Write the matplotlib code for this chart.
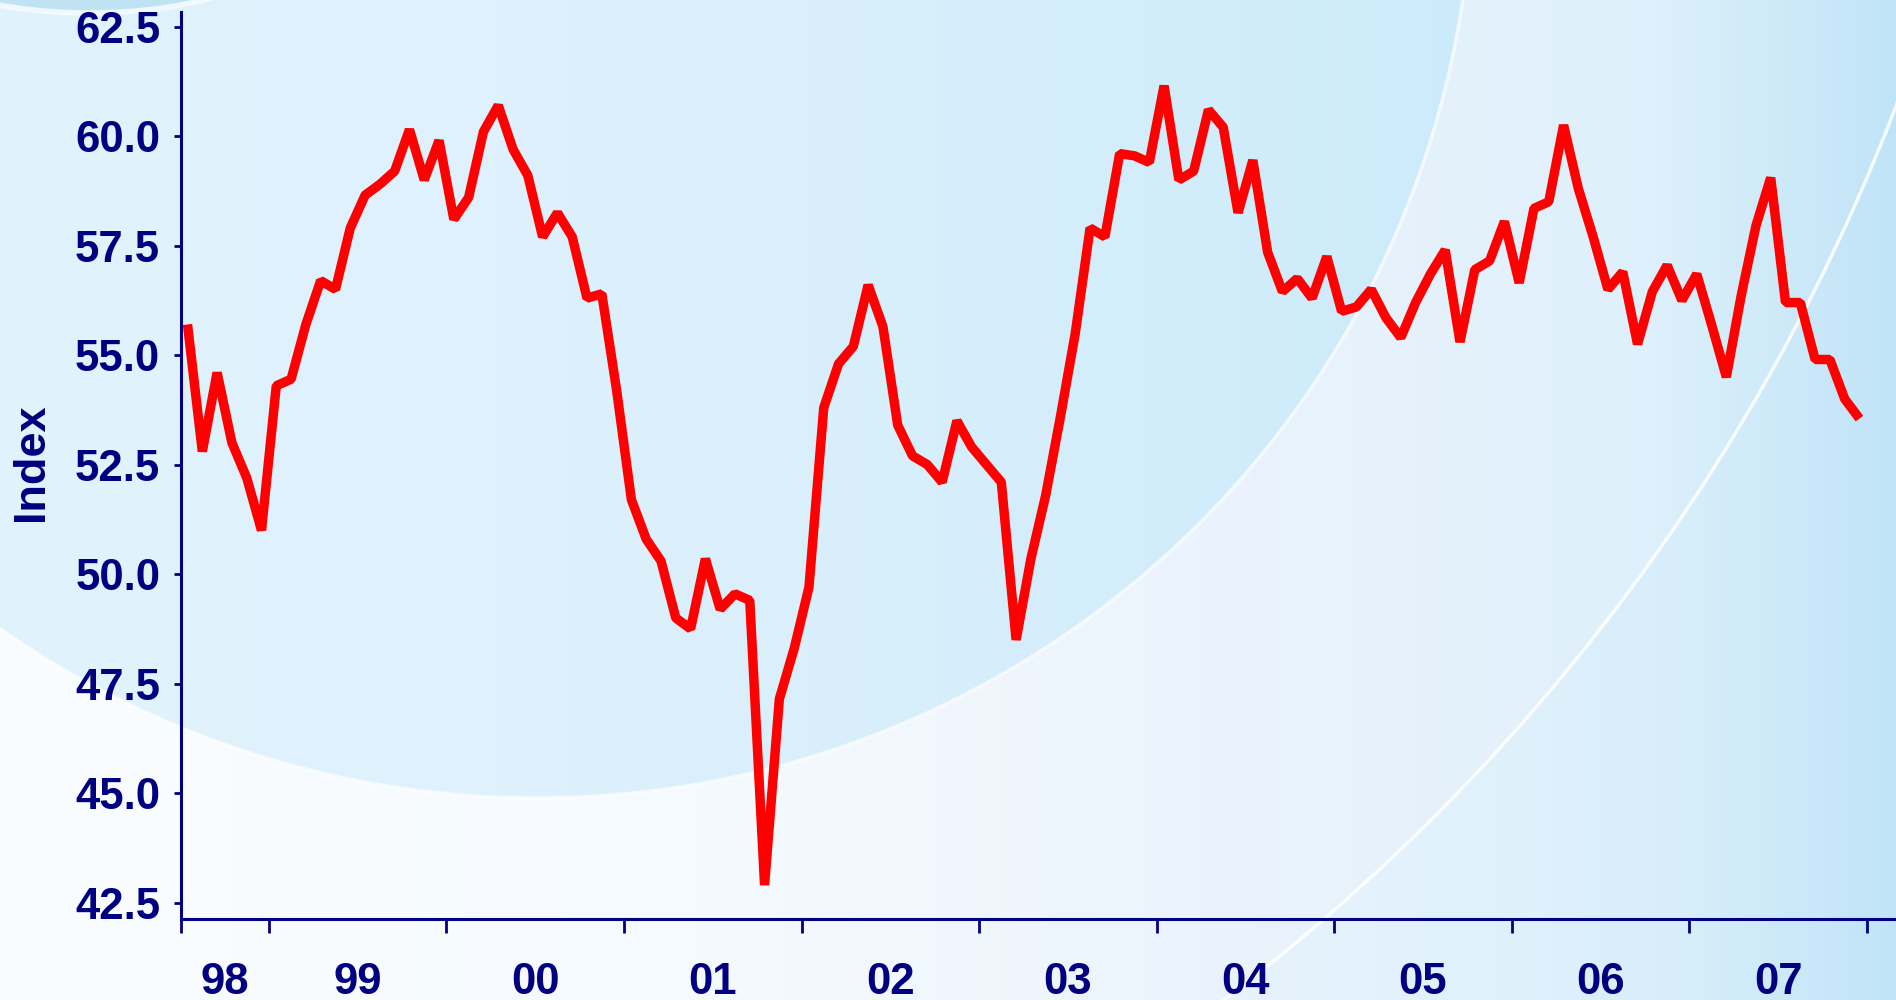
import numpy as np
import matplotlib
matplotlib.use("Agg")
import matplotlib.pyplot as plt
from matplotlib.patches import Circle, Ellipse

# ---------------- data ----------------
# monthly index values, July 1998 .. December 2007
index_values = [
    55.7, 52.8, 54.6, 53.0, 52.2, 51.0,                                   # 1998 Jul-Dec
    54.3, 54.45, 55.7, 56.7, 56.5, 57.9, 58.65, 58.9, 59.2, 60.15, 59.0, 59.9,   # 1999
    58.1, 58.6, 60.1, 60.7, 59.7, 59.1, 57.7, 58.25, 57.7, 56.3, 56.4, 54.2,     # 2000
    51.7, 50.8, 50.3, 49.0, 48.75, 50.35, 49.2, 49.55, 49.4, 42.9, 47.15, 48.3,  # 2001
    49.7, 53.8, 54.8, 55.2, 56.6, 55.65, 53.4, 52.7, 52.5, 52.1, 53.5, 52.9,     # 2002
    52.5, 52.1, 48.5, 50.35, 51.8, 53.6, 55.5, 57.9, 57.7, 59.6, 59.55, 59.4,    # 2003
    61.15, 59.0, 59.2, 60.6, 60.2, 58.25, 59.45, 57.35, 56.45, 56.75, 56.3, 57.25,  # 2004
    56.0, 56.1, 56.5, 55.85, 55.4, 56.2, 56.85, 57.4, 55.3, 56.95, 57.15, 58.05,   # 2005
    56.65, 58.35, 58.5, 60.25, 58.8, 57.7, 56.5, 56.9, 55.25, 56.45, 57.05, 56.25,  # 2006
    56.85, 55.7, 54.5, 56.35, 57.95, 59.05, 56.2, 56.2, 54.9, 54.9, 54.0, 53.55,   # 2007
]
year_labels = ["98", "99", "00", "01", "02", "03", "04", "05", "06", "07"]
y_ticks = [42.5, 45.0, 47.5, 50.0, 52.5, 55.0, 57.5, 60.0, 62.5]
first_month = -6          # July 1998, months relative to January 1999
y_label = "Index"

# ---------------- style ----------------
NAVY = "#000080"
RED = "#ff0000"
plt.rcParams["font.family"] = ["Liberation Sans", "DejaVu Sans"]
plt.rcParams["font.weight"] = "bold"
FS = 31.5

W, H = 1896, 1000
fig = plt.figure(figsize=(W / 100, H / 100), dpi=100)

# ---------------- decorative background ----------------
bg = fig.add_axes([0, 0, 1, 1], zorder=0)
bg.set_xlim(0, W)
bg.set_ylim(H, 0)
bg.axis("off")

xx = np.arange(W)
yy = np.arange(H)
X, Y = np.meshgrid(xx, yy)


def grad(stops_x, stops_c):
    c = np.array(stops_c, dtype=float) / 255.0
    return np.stack([np.interp(xx, stops_x, c[:, i]) for i in range(3)], axis=-1)


outside = grad([0, 700, 1250, 1650, 1896],
               [(250, 253, 255), (245, 250, 254), (234, 243, 252), (222, 240, 251), (192, 228, 247)])
inside1 = grad([0, 500, 1000, 1480],
               [(225, 243, 253), (222, 241, 252), (214, 238, 251), (204, 235, 250)])
right2 = grad([1250, 1500, 1700, 1896],
              [(230, 243, 252), (224, 241, 252), (214, 237, 250), (192, 228, 247)])

img = np.broadcast_to(outside, (H, W, 3)).copy()
c1 = (537.0, -138.0, 936.0)
c2 = (-8.0, -626.0, 2040.0)
m1 = (X - c1[0]) ** 2 + (Y - c1[1]) ** 2 < c1[2] ** 2
m2 = (X - c2[0]) ** 2 + (Y - c2[1]) ** 2 > c2[2] ** 2
img[m2] = np.broadcast_to(right2, (H, W, 3))[m2]
img[m1] = np.broadcast_to(inside1, (H, W, 3))[m1]
bg.imshow(img, extent=[0, W, H, 0], aspect="auto", interpolation="bilinear", zorder=0)

bg.add_patch(Circle(c1[:2], c1[2], fill=False, ec="white", lw=2.5, alpha=0.7, zorder=1))
bg.add_patch(Circle(c2[:2], c2[2], fill=False, ec="white", lw=2.5, alpha=0.85, zorder=1))
bg.add_patch(Ellipse((90, -60), 400, 146, fc="#bde2f4", ec="#f4fbff", lw=4, alpha=0.9, zorder=1))

# ---------------- chart ----------------
ax = fig.add_axes([181 / W, 1 - 919.3 / H, (1895 - 181) / W, (919.3 - 11.7) / H], zorder=2)
ax.patch.set_alpha(0)

x = np.arange(len(index_values)) + first_month + 0.5
ax.plot(x, index_values, color=RED, lw=6.8, solid_joinstyle="bevel",
        solid_capstyle="butt", zorder=3, clip_on=False)

xmin, xmax = -5.94, 109.9
ax.set_xlim(xmin, xmax)
ax.set_ylim(42.12, 62.84)

for s in ("top", "right"):
    ax.spines[s].set_visible(False)
for s in ("left", "bottom"):
    ax.spines[s].set_color(NAVY)
    ax.spines[s].set_linewidth(2.2)

ax.set_yticks(y_ticks)
ax.set_yticklabels([f"{v:.1f}" for v in y_ticks])
ax.tick_params(axis="y", direction="out", length=5, width=2, color=NAVY,
               pad=10, labelsize=FS, labelcolor=NAVY)

major = [xmin] + list(range(0, 12 * len(year_labels), 12))
ax.set_xticks(major)
ax.set_xticklabels([""] * len(major))
centers = [(xmin + 0) / 2] + [12 * i + 6 for i in range(len(year_labels) - 1)]
ax.set_xticks(centers, minor=True)
ax.set_xticklabels(year_labels, minor=True)
ax.tick_params(axis="x", which="major", direction="out", length=10, width=2, color=NAVY)
ax.tick_params(axis="x", which="minor", length=0, pad=31, labelsize=FS, labelcolor=NAVY)

fig.text(31 / W, 1 - 462 / H, y_label, rotation=90, ha="center", va="center",
         fontsize=FS + 1, fontweight="bold", color=NAVY)

fig.savefig("out.png", dpi=100)
